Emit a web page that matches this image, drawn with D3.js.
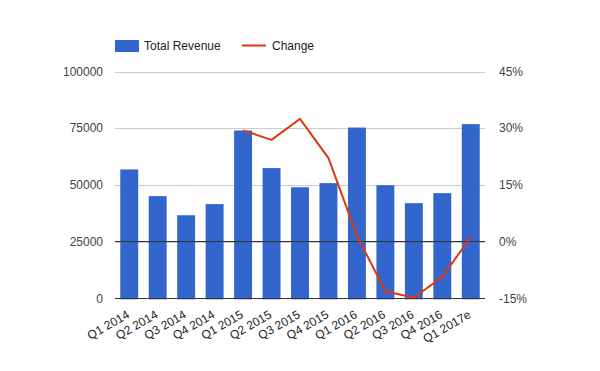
<!DOCTYPE html>
<html>
<head>
<meta charset="utf-8">
<script src="https://cdn.jsdelivr.net/npm/d3@7"></script>
<style>
  body { margin: 0; background: #fff; }
  svg text { font-family: "Liberation Sans", Arial, sans-serif; }
</style>
</head>
<body>
<div id="chart"></div>
<script>
var quarters = ["Q1 2014","Q2 2014","Q3 2014","Q4 2014","Q1 2015","Q2 2015","Q3 2015","Q4 2015","Q1 2016","Q2 2016","Q3 2016","Q4 2016","Q1 2017e"];
var revenue = [57000, 45300, 36900, 41800, 74100, 57600, 49200, 51000, 75400, 50100, 42200, 46600, 76900];
// null where there is no year-ago quarter
var change = [null, null, null, null, 29.5, 27.0, 32.5, 22.2, 1.8, -12.9, -14.6, -9.1, 1.4];
var leftTicks = [0, 25000, 50000, 75000, 100000];
var rightTicks = [-15, 0, 15, 30, 45];

var width = 600, height = 371;
var margin = {left:115, right:115, top:71.5, bottom:72};

var svg = d3.select("#chart").append("svg")
  .attr("width", width).attr("height", height);

var x = d3.scaleBand()
  .domain(quarters)
  .range([margin.left, width - margin.right])
  .paddingInner(0.37)
  .paddingOuter(0.185);

var y = d3.scaleLinear()
  .domain([0, 100000])
  .range([height - margin.bottom + 0.3, margin.top]);

var y2 = d3.scaleLinear()
  .domain([-15, 45])
  .range([height - margin.bottom + 0.3, margin.top]);

// gridlines
svg.append("g").selectAll("line")
  .data(leftTicks.slice(1))
  .enter().append("line")
    .attr("x1", margin.left).attr("x2", width - margin.right)
    .attr("y1", function(d) { return Math.round(y(d)) + 0.5; })
    .attr("y2", function(d) { return Math.round(y(d)) + 0.5; })
    .style("stroke", "#cccccc");

// bars
svg.append("g").selectAll("rect")
  .data(revenue)
  .enter().append("rect")
    .attr("x", function(d, i) { return x(quarters[i]); })
    .attr("y", function(d) { return y(d); })
    .attr("width", x.bandwidth())
    .attr("height", function(d) { return y(0) - y(d); })
    .style("fill", "#3366cc");

// zero line of right axis and baseline
[y2(0), y(0)].forEach(function(py) {
  svg.append("line")
    .attr("x1", margin.left).attr("x2", width - margin.right)
    .attr("y1", Math.round(py) - 0.5).attr("y2", Math.round(py) - 0.5)
    .style("stroke", "#333333");
});

// change line
var line = d3.line()
  .defined(function(d) { return d != null; })
  .x(function(d, i) { return x(quarters[i]) + x.bandwidth() / 2; })
  .y(function(d) { return y2(d); });

svg.append("path")
  .datum(change)
  .attr("d", line)
  .style("fill", "none")
  .style("stroke", "#dc3912")
  .style("stroke-width", 2);

// left axis labels
svg.append("g").selectAll("text")
  .data(leftTicks)
  .enter().append("text")
    .attr("x", margin.left - 12)
    .attr("y", function(d) { return y(d) + 4; })
    .attr("text-anchor", "end")
    .style("font-size", "12px")
    .style("fill", "#444")
    .text(function(d) { return d; });

// right axis labels
svg.append("g").selectAll("text")
  .data(rightTicks)
  .enter().append("text")
    .attr("x", width - margin.right + 14)
    .attr("y", function(d) { return y2(d) + 4; })
    .attr("text-anchor", "start")
    .style("font-size", "12px")
    .style("fill", "#444")
    .text(function(d) { return d + "%"; });

// x labels, slanted
svg.append("g").selectAll("text")
  .data(quarters)
  .enter().append("text")
    .attr("text-anchor", "end")
    .attr("transform", function(d) {
      return "translate(" + (x(d) + x.bandwidth() / 2 + 1) + "," + (height - margin.bottom + 18) + ") rotate(-30)";
    })
    .style("font-size", "12px")
    .style("fill", "#222")
    .text(function(d) { return d; });

// legend
var legend = svg.append("g");
legend.append("rect")
  .attr("x", 115).attr("y", 40).attr("width", 24).attr("height", 12)
  .style("fill", "#3366cc");
legend.append("text")
  .attr("x", 144).attr("y", 50)
  .style("font-size", "12px").style("fill", "#222")
  .text("Total Revenue");
legend.append("line")
  .attr("x1", 242).attr("x2", 266).attr("y1", 45.5).attr("y2", 45.5)
  .style("stroke", "#dc3912").style("stroke-width", 2);
legend.append("text")
  .attr("x", 272).attr("y", 50)
  .style("font-size", "12px").style("fill", "#222")
  .text("Change");
</script>
</body>
</html>
